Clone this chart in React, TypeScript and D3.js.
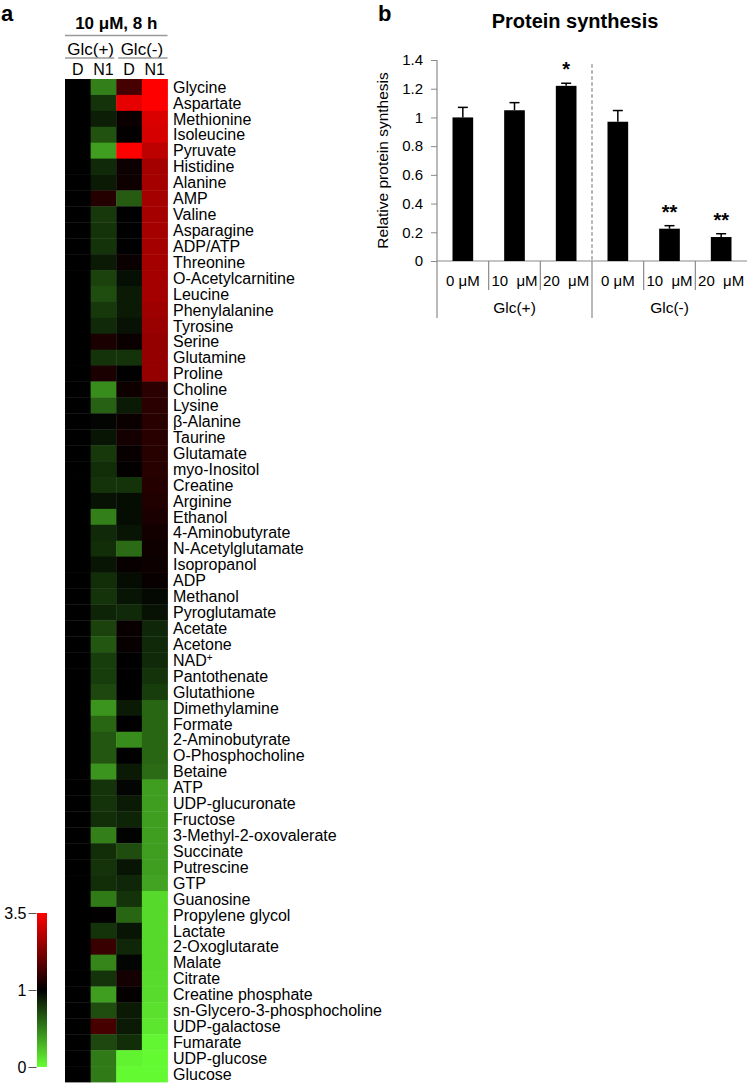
import React, { useEffect, useRef } from 'react';
import * as d3 from 'd3';

// ---- panel a: metabolite heatmap (fold change vs control) ----
const metabolites = [
  'Glycine', 'Aspartate', 'Methionine', 'Isoleucine', 'Pyruvate', 'Histidine', 'Alanine', 'AMP',
  'Valine', 'Asparagine', 'ADP/ATP', 'Threonine', 'O-Acetylcarnitine', 'Leucine', 'Phenylalanine',
  'Tyrosine', 'Serine', 'Glutamine', 'Proline', 'Choline', 'Lysine', 'β-Alanine', 'Taurine',
  'Glutamate', 'myo-Inositol', 'Creatine', 'Arginine', 'Ethanol', '4-Aminobutyrate',
  'N-Acetylglutamate', 'Isopropanol', 'ADP', 'Methanol', 'Pyroglutamate', 'Acetate', 'Acetone',
  'NAD+', 'Pantothenate', 'Glutathione', 'Dimethylamine', 'Formate', '2-Aminobutyrate',
  'O-Phosphocholine', 'Betaine', 'ATP', 'UDP-glucuronate', 'Fructose', '3-Methyl-2-oxovalerate',
  'Succinate', 'Putrescine', 'GTP', 'Guanosine', 'Propylene glycol', 'Lactate', '2-Oxoglutarate',
  'Malate', 'Citrate', 'Creatine phosphate', 'sn-Glycero-3-phosphocholine', 'UDP-galactose',
  'Fumarate', 'UDP-glucose', 'Glucose',
];

const glcPlusD = [
  1, 1, 1, 1, 1, 1, 1, 1, 1, 1, 1, 1, 1, 1, 1, 1, 1, 1, 1, 1, 1,
  1, 1, 1, 1, 1, 1, 1, 1, 1, 1, 1, 1, 1, 1, 1, 1, 1, 1, 1, 1, 1,
  1, 1, 1, 1, 1, 1, 1, 1, 1, 1, 1, 1, 1, 1, 1, 1, 1, 1, 1, 1, 1,
];

const glcPlusN1 = [
  0.5, 0.8, 0.88, 0.68, 0.38, 0.84, 0.9, 1.35, 0.78, 0.8, 0.8, 0.9, 0.74, 0.7, 0.78, 0.84,
  1.25, 0.8, 1.25, 0.45, 0.62, 0.98, 0.92, 0.78, 0.82, 0.8, 0.93, 0.5, 0.84, 0.82, 0.92, 0.82,
  0.8, 0.86, 0.74, 0.66, 0.76, 0.76, 0.72, 0.42, 0.6, 0.66, 0.66, 0.42, 0.8, 0.8, 0.82, 0.5,
  0.82, 0.8, 0.82, 0.52, 1.02, 0.8, 1.55, 0.48, 0.8, 0.38, 0.7, 1.7, 0.72, 0.52, 0.52,
];

const glcMinusD = [
  1.7, 3.25, 1.1, 1.03, 3.5, 1.12, 1.15, 0.64, 1.0, 1.0, 1.0, 1.1, 0.94, 0.9, 0.9, 0.93,
  1.1, 0.8, 1.0, 1.15, 0.9, 1.1, 1.2, 1.08, 1.03, 0.8, 0.95, 0.95, 0.92, 0.58, 1.08, 0.95,
  0.92, 0.84, 1.08, 1.08, 1.0, 1.0, 1.0, 0.9, 1.0, 0.45, 1.0, 0.9, 0.98, 0.9, 0.86, 0.99,
  0.7, 0.92, 0.85, 0.8, 0.6, 0.92, 0.85, 0.98, 1.2, 1.05, 0.9, 0.9, 0.82, 0.05, 0.02,
];

const glcMinusN1 = [
  3.5, 3.5, 3.15, 3.1, 2.85, 2.62, 2.62, 2.62, 2.62, 2.62, 2.62, 2.62, 2.62, 2.62, 2.55, 2.5,
  2.45, 2.45, 2.45, 1.42, 1.42, 1.4, 1.4, 1.38, 1.38, 1.35, 1.32, 1.25, 1.18, 1.15, 1.12, 1.08,
  0.96, 0.93, 0.85, 0.84, 0.84, 0.8, 0.76, 0.6, 0.6, 0.6, 0.6, 0.58, 0.38, 0.38, 0.38, 0.38,
  0.38, 0.38, 0.36, 0.15, 0.15, 0.15, 0.15, 0.15, 0.14, 0.14, 0.12, 0.1, 0.04, 0.02, 0.02,
];

const heatColumns = ['Glc(+) D', 'Glc(+) N1', 'Glc(-) D', 'Glc(-) N1'];
const columnLabels = ['D', 'N1', 'D', 'N1'];
const groupLabels = ['Glc(+)', 'Glc(-)'];
const colorTicks = [0, 1, 3.5];

// ---- panel b: protein synthesis ----
const doseLabels = ['0 μM', '10  μM', '20  μM', '0 μM', '10  μM', '20  μM'];
const glcGroups = ['Glc(+)', 'Glc(-)'];
const synthesis = [1.0, 1.05, 1.22, 0.97, 0.225, 0.167];
const synthesisErr = [0.07, 0.053, 0.018, 0.078, 0.021, 0.023];
const significance = ['', '', '*', '', '**', '**'];

const W = 751;
const H = 1086;
const FONT = '"Liberation Sans", Arial, Helvetica, sans-serif';

const App = () => {
  const svgRef = useRef<SVGSVGElement>(null);

  useEffect(() => {
    document.body.style.margin = '0';
    const svg = d3.select(svgRef.current);
    svg.selectAll('*').remove();
    svg.attr('width', W).attr('height', H)
      .style('display', 'block')
      .style('font-family', FONT)
      .style('background', '#fff');

    // ============ panel a ============
    svg.append('text')
      .attr('x', 1).attr('y', 21)
      .style('font-size', '22px').style('font-weight', 'bold')
      .text('a');

    const series = [glcPlusD, glcPlusN1, glcMinusD, glcMinusN1];
    const x = d3.scaleBand().domain(heatColumns).range([65, 167.5]);
    const y = d3.scaleBand().domain(metabolites).range([79, 1082]);
    const color = d3.scaleLinear<string>()
      .domain([0, 1, 3.5])
      .range(['#66ff33', '#000000', '#ff0000'])
      .clamp(true);

    const cells: { m: string; c: string; v: number }[] = [];
    metabolites.forEach((m, i) => {
      heatColumns.forEach((c, j) => cells.push({ m, c, v: series[j][i] }));
    });

    const ha = svg.append('g');
    ha.selectAll('rect.cell')
      .data(cells)
      .enter()
      .append('rect')
      .attr('class', 'cell')
      .attr('x', d => x(d.c)!)
      .attr('y', d => y(d.m)!)
      .attr('width', x.bandwidth() + 0.4)
      .attr('height', y.bandwidth() + 0.4)
      .attr('fill', d => color(d.v));

    // header
    const [hx0, hx1] = x.range();
    ha.append('text')
      .attr('x', (hx0 + hx1) / 2).attr('y', 29)
      .attr('text-anchor', 'middle')
      .style('font-size', '17px').style('font-weight', 'bold')
      .text('10 μM, 8 h');
    ha.append('line')
      .attr('x1', hx0).attr('x2', hx1).attr('y1', 35.5).attr('y2', 35.5)
      .attr('stroke', '#9a9a9a').attr('stroke-width', 1.5);

    groupLabels.forEach((g, k) => {
      const a = x(heatColumns[k * 2])!;
      const b = x(heatColumns[k * 2 + 1])! + x.bandwidth();
      ha.append('text')
        .attr('x', (a + b) / 2).attr('y', 54.5)
        .attr('text-anchor', 'middle')
        .style('font-size', '17px')
        .text(g);
      ha.append('line')
        .attr('x1', a + (k === 1 ? 2 : 0)).attr('x2', b - (k === 0 ? 2 : 0))
        .attr('y1', 58).attr('y2', 58)
        .attr('stroke', '#9a9a9a').attr('stroke-width', 1.5);
    });

    heatColumns.forEach((c, j) => {
      ha.append('text')
        .attr('x', x(c)! + x.bandwidth() / 2).attr('y', 74.5)
        .attr('text-anchor', 'middle')
        .style('font-size', '16px')
        .text(columnLabels[j]);
    });

    // row labels
    const rl = ha.selectAll('text.row')
      .data(metabolites)
      .enter()
      .append('text')
      .attr('class', 'row')
      .attr('x', hx1 + 5.5)
      .attr('y', d => y(d)! + y.bandwidth() / 2)
      .attr('dy', '0.36em')
      .style('font-size', '16px');
    rl.each(function (d) {
      const t = d3.select(this);
      if (d === 'NAD+') {
        t.append('tspan').text('NAD');
        t.append('tspan').attr('dy', '-0.45em').style('font-size', '10px').text('+');
      } else {
        t.text(d);
      }
    });

    // colour bar
    const cb = d3.scaleLinear().domain([0, 1, 3.5]).range([1067, 990, 913]);
    const defs = svg.append('defs');
    const grad = defs.append('linearGradient')
      .attr('id', 'cbar-grad')
      .attr('x1', 0).attr('y1', 1).attr('x2', 0).attr('y2', 0);
    const cbTop = cb(3.5), cbBot = cb(0);
    [0, 0.25, 0.5, 0.75, 1, 1.5, 2, 2.5, 3, 3.5].forEach(v => {
      grad.append('stop')
        .attr('offset', `${((cbBot - cb(v)) / (cbBot - cbTop)) * 100}%`)
        .attr('stop-color', color(v));
    });
    ha.append('rect')
      .attr('x', 37).attr('width', 10)
      .attr('y', cbTop).attr('height', cbBot - cbTop)
      .attr('fill', 'url(#cbar-grad)');
    const cbAxis = ha.append('g')
      .attr('transform', 'translate(36.5,0)')
      .call(d3.axisLeft(cb).tickValues(colorTicks).tickSize(8).tickPadding(2)
        .tickFormat(d => String(d)));
    cbAxis.select('.domain').remove();
    cbAxis.selectAll('line').attr('stroke', '#555');
    cbAxis.selectAll('text')
      .style('font-size', '16px')
      .style('font-family', FONT)
      .attr('fill', '#000');

    // ============ panel b ============
    svg.append('text')
      .attr('x', 378).attr('y', 21)
      .style('font-size', '22px').style('font-weight', 'bold')
      .text('b');

    svg.append('text')
      .attr('x', 575).attr('y', 28)
      .attr('text-anchor', 'middle')
      .style('font-size', '20px').style('font-weight', 'bold')
      .text('Protein synthesis');

    const idx = d3.range(synthesis.length);
    const bx = d3.scaleBand<number>()
      .domain(idx)
      .range([437, 747])
      .paddingInner(0.6)
      .paddingOuter(0.3);
    const by = d3.scaleLinear().domain([0, 1.4]).range([261, 60]);
    const axisColor = '#8a8a8a';
    const g = svg.append('g');

    const yAxis = g.append('g')
      .attr('transform', 'translate(437,0)')
      .call(d3.axisLeft(by).ticks(7).tickSize(6).tickPadding(8)
        .tickFormat(d => d3.format('~g')(+d)));
    yAxis.select('.domain').remove();
    yAxis.selectAll('line').attr('stroke', axisColor);
    yAxis.selectAll('text')
      .style('font-size', '15px')
      .style('font-family', FONT)
      .attr('fill', '#000');

    g.append('text')
      .attr('transform', `translate(388,${(by(0) + by(1.4)) / 2}) rotate(-90)`)
      .attr('text-anchor', 'middle')
      .style('font-size', '15.5px')
      .text('Relative protein synthesis');

    const [r0, r1] = bx.range();
    const step = bx.step();
    const base = by(0);
    // axis lines and category separators
    g.append('line')
      .attr('x1', r0).attr('x2', r0).attr('y1', by(1.4)).attr('y2', base + 57)
      .attr('stroke', axisColor).attr('stroke-width', 1.2);
    g.append('line')
      .attr('x1', r0).attr('x2', r1).attr('y1', base).attr('y2', base)
      .attr('stroke', axisColor).attr('stroke-width', 1.2);
    d3.range(1, idx.length).forEach(i => {
      const xx = r0 + i * step;
      const isGroup = i === 3;
      g.append('line')
        .attr('x1', xx).attr('x2', xx)
        .attr('y1', base).attr('y2', base + (isGroup ? 57 : 29))
        .attr('stroke', axisColor).attr('stroke-width', 1.2);
      if (isGroup) {
        g.append('line')
          .attr('x1', xx).attr('x2', xx)
          .attr('y1', by(1.37)).attr('y2', base)
          .attr('stroke', '#808080').attr('stroke-width', 1.2)
          .attr('stroke-dasharray', '3.5,2.5');
      }
    });

    // bars
    g.selectAll('rect.bar')
      .data(idx)
      .enter()
      .append('rect')
      .attr('class', 'bar')
      .attr('x', i => bx(i)!)
      .attr('width', bx.bandwidth())
      .attr('y', i => by(synthesis[i]))
      .attr('height', i => base - by(synthesis[i]))
      .attr('fill', '#000');

    // error bars (upper only)
    idx.forEach(i => {
      const cx = bx(i)! + bx.bandwidth() / 2;
      const top = by(synthesis[i] + synthesisErr[i]);
      g.append('line')
        .attr('x1', cx).attr('x2', cx)
        .attr('y1', by(synthesis[i])).attr('y2', top)
        .attr('stroke', '#000').attr('stroke-width', 1.5);
      g.append('line')
        .attr('x1', cx - 5).attr('x2', cx + 5)
        .attr('y1', top).attr('y2', top)
        .attr('stroke', '#000').attr('stroke-width', 1.5);
      if (significance[i]) {
        g.append('text')
          .attr('x', cx).attr('y', top - 7)
          .attr('text-anchor', 'middle')
          .style('font-size', '20px').style('font-weight', 'bold')
          .text(significance[i]);
      }
    });

    // category labels
    idx.forEach(i => {
      g.append('text')
        .attr('x', bx(i)! + bx.bandwidth() / 2)
        .attr('y', base + 25)
        .attr('text-anchor', 'middle')
        .attr('xml:space', 'preserve')
        .style('white-space', 'pre')
        .style('font-size', '15px')
        .text(doseLabels[i]);
    });
    glcGroups.forEach((lab, k) => {
      g.append('text')
        .attr('x', r0 + step * (k * 3 + 1.5))
        .attr('y', base + 52)
        .attr('text-anchor', 'middle')
        .style('font-size', '15.5px')
        .text(lab);
    });
  }, []);

  return (
    <div>
      <svg ref={svgRef}></svg>
    </div>
  );
};

export default App;
